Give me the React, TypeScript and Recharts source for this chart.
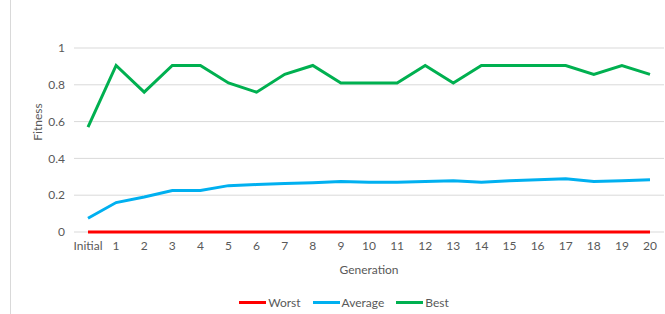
import { LineChart, Line, XAxis, YAxis, CartesianGrid, Legend, Label } from 'recharts';

const generations = ['Initial', '1', '2', '3', '4', '5', '6', '7', '8', '9', '10', '11', '12', '13', '14', '15', '16', '17', '18', '19', '20'];
const worst = [0, 0, 0, 0, 0, 0, 0, 0, 0, 0, 0, 0, 0, 0, 0, 0, 0, 0, 0, 0, 0];
const average = [0.075, 0.16, 0.19, 0.225, 0.225, 0.252, 0.258, 0.263, 0.268, 0.274, 0.27, 0.27, 0.274, 0.279, 0.27, 0.279, 0.284, 0.29, 0.275, 0.279, 0.284];
const best = [0.57, 0.905, 0.76, 0.905, 0.905, 0.81, 0.76, 0.857, 0.905, 0.81, 0.81, 0.81, 0.905, 0.81, 0.905, 0.905, 0.905, 0.905, 0.857, 0.905, 0.857];
const yTicks = [0, 0.2, 0.4, 0.6, 0.8, 1];

const series = [
  { key: 'Worst', color: '#ff0000' },
  { key: 'Average', color: '#00b0f0' },
  { key: 'Best', color: '#00b050' },
];

const data = generations.map((gen, i) => ({
  gen,
  Worst: worst[i],
  Average: average[i],
  Best: best[i],
}));

const FONT = 'Lato, "Open Sans", sans-serif';
const TEXT = '#595959';
const GRID = '#d9d9d9';

// rotated axis title, placed a bit above the plot middle like the original
const FitnessLabel = (props: any) => {
  const { viewBox } = props;
  const x = viewBox.x + 27;
  const y = viewBox.y + viewBox.height / 2 - 18;
  return (
    <text x={x} y={y} transform={`rotate(-90, ${x}, ${y})`} textAnchor="middle" dominantBaseline="central" fill={TEXT} fontSize={12} fontFamily={FONT}>
      Fitness
    </text>
  );
};

// legend in the original series order (recharts would sort it)
const renderLegend = () => (
  <div style={{ display: 'flex', justifyContent: 'center', alignItems: 'center', height: 24, paddingLeft: 26, paddingTop: 3, fontFamily: FONT, fontSize: 12, color: TEXT }}>
    {series.map((s) => (
      <div key={s.key} style={{ display: 'flex', alignItems: 'center', marginRight: 12 }}>
        <div style={{ width: 27, height: 3, background: s.color, marginRight: 2 }} />
        <span>{s.key}</span>
      </div>
    ))}
  </div>
);

export default function App() {
  return (
    <div style={{ position: 'absolute', left: 0, top: 0, width: 665, height: 314, background: '#fff' }}>
      <div style={{ position: 'absolute', left: 10, top: 0, width: 1, height: 314, background: GRID }} />
      <LineChart width={665} height={314} data={data} margin={{ top: 48, right: 1, left: 10, bottom: 0 }}>
        <CartesianGrid vertical={false} stroke={GRID} />
        <XAxis
          dataKey="gen"
          padding={{ left: 14, right: 14 }}
          interval={0}
          tickLine={false}
          tickSize={0}
          tickMargin={9}
          axisLine={false}
          tick={{ fill: TEXT, fontSize: 12, fontFamily: FONT }}
          height={55}
        >
          <Label value="Generation" position="insideBottom" offset={13} fill={TEXT} fontSize={12} fontFamily={FONT} />
        </XAxis>
        <YAxis
          domain={[0, 1]}
          ticks={yTicks}
          width={64}
          axisLine={false}
          tickLine={false}
          tickSize={0}
          tickMargin={9}
          tick={{ fill: TEXT, fontSize: 12, fontFamily: FONT }}
        >
          <Label content={<FitnessLabel />} />
        </YAxis>
        <Legend verticalAlign="bottom" content={renderLegend} />
        {series.map((s) => (
          <Line key={s.key} type="linear" dataKey={s.key} stroke={s.color} strokeWidth={3} dot={false} isAnimationActive={false} />
        ))}
      </LineChart>
    </div>
  );
}
